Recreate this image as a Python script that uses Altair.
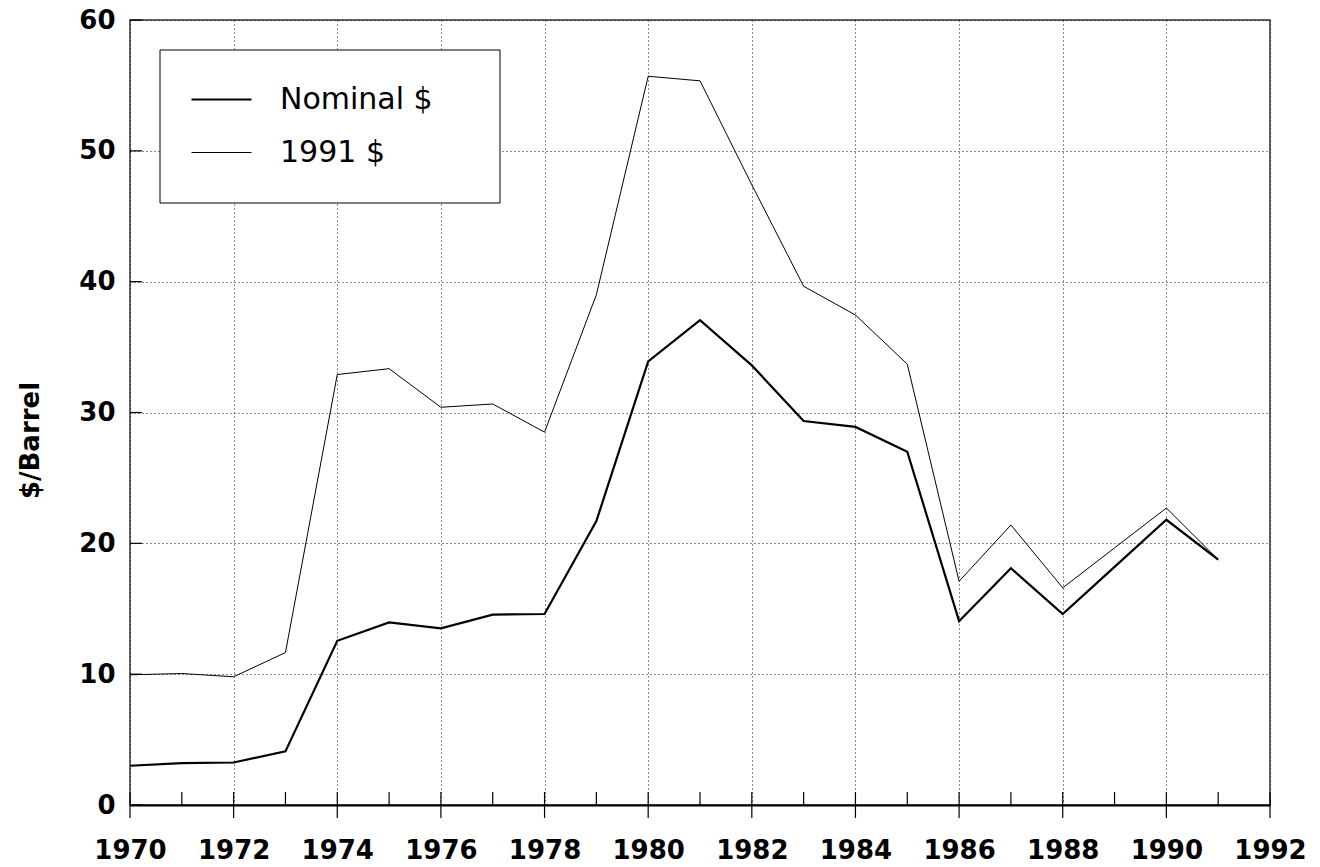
import altair as alt
import pandas as pd

# ---- data ----
years = list(range(1970, 1992))
nominal = [3.0, 3.2, 3.25, 4.1, 12.55, 13.95, 13.5, 14.55, 14.6, 21.7, 33.9,
           37.05, 33.6, 29.35, 28.9, 27.0, 14.05, 18.1, 14.6, 18.2, 21.8, 18.75]
real_1991 = [9.95, 10.05, 9.8, 11.65, 32.9, 33.35, 30.4, 30.65, 28.5, 39.0, 55.7,
             55.35, 47.4, 39.65, 37.45, 33.7, 17.1, 21.4, 16.6, 19.65, 22.7, 18.75]
series_names = ["Nominal $", "1991 $"]
x_major = list(range(1970, 1993, 2))
x_minor = list(range(1971, 1992, 2))
y_major = list(range(0, 61, 10))

W, H = 1140, 785
FONT = "DejaVu Sans"

df = pd.DataFrame({
    "year": years * 2,
    "price": nominal + real_1991,
    "series": [series_names[0]] * len(years) + [series_names[1]] * len(years),
})

x_scale = alt.Scale(domain=[1970, 1992], nice=False, zero=False)
y_scale = alt.Scale(domain=[0, 60], nice=False)

x_axis = alt.Axis(values=x_major, format="d", title=None, ticks=False,
                  grid=True, labelPadding=32, domainWidth=2,
                  domainColor="black", labelFlush=False, labelOverlap=False)
y_axis = alt.Axis(values=y_major, title="$/Barrel", ticks=False,
                  grid=True, domain=False, labelPadding=15,
                  labelFlush=False, labelOverlap=False,
                  titleX=-100, titleY=420, titleBaseline="middle")

# legend frame (decoration behind the legend)
legend_box = alt.Chart(pd.DataFrame({"k": [0]})).mark_rect(
    fill="white", stroke="black", strokeWidth=1).encode(
    x=alt.value(30), x2=alt.value(370), y=alt.value(30), y2=alt.value(183))

lines = alt.Chart(df).mark_line(color="black").encode(
    x=alt.X("year:Q", scale=x_scale, axis=x_axis),
    y=alt.Y("price:Q", scale=y_scale, axis=y_axis),
    strokeWidth=alt.StrokeWidth(
        "series:N",
        scale=alt.Scale(domain=series_names, range=[2.2, 1.0]),
        legend=alt.Legend(title=None, orient="none", legendX=30, legendY=23,
                          padding=25,
                          symbolType="stroke", symbolSize=3600,
                          symbolStrokeColor="black", symbolOffset=5,
                          labelFont=FONT, labelFontSize=30, labelOffset=27,
                          labelColor="black", rowPadding=7),
    ),
)

xmaj = alt.Chart(pd.DataFrame({"year": x_major})).mark_rule(
    color="black", strokeWidth=1.2).encode(
    x=alt.X("year:Q", scale=x_scale, axis=x_axis),
    y=alt.value(H - 13), y2=alt.value(H + 13))

xmin = alt.Chart(pd.DataFrame({"year": x_minor})).mark_rule(
    color="black", strokeWidth=1.2).encode(
    x=alt.X("year:Q", scale=x_scale, axis=x_axis),
    y=alt.value(H - 13), y2=alt.value(H))

ymaj = alt.Chart(pd.DataFrame({"price": y_major})).mark_rule(
    color="black", strokeWidth=1.2).encode(
    y=alt.Y("price:Q", scale=y_scale, axis=y_axis),
    x=alt.value(0), x2=alt.value(12))

chart = alt.layer(lines, legend_box, xmaj, xmin, ymaj).properties(
    width=W, height=H,
    autosize=alt.AutoSizeParams(type="none"),
    padding={"left": 122, "top": 12, "right": 40, "bottom": 60},
).configure_view(
    stroke="#333", strokeWidth=1.5
).configure_axis(
    labelFont=FONT, labelFontSize=26, labelFontWeight="bold", labelColor="black",
    titleFont=FONT, titleFontSize=26, titleFontWeight="bold", titleColor="black",
    gridDash=[1, 3], gridColor="black", gridWidth=1, gridOpacity=0.9,
)

chart.save("out.html", embed_options={"renderer": "svg", "actions": False})
